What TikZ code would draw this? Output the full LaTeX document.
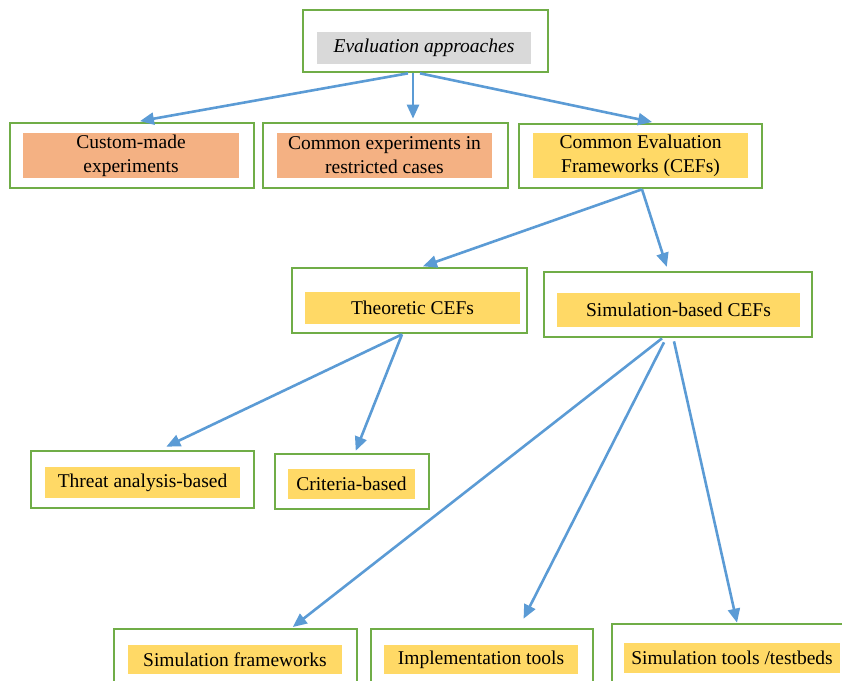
\documentclass[tikz,border=0pt]{standalone}
\usepackage{fontspec}
\setmainfont{Liberation Serif}
\usetikzlibrary{arrows.meta,calc}
\definecolor{FrameClr}{RGB}{112,173,71}
\definecolor{ArrowClr}{RGB}{91,155,213}
\definecolor{OrangeClr}{RGB}{244,177,131}
\definecolor{YellowClr}{RGB}{255,217,102}
\definecolor{GrayClr}{RGB}{217,217,217}
\tikzset{
  outerbox/.style={draw=FrameClr,line width=2.7pt,inner sep=0pt},
  textbox/.style={inner sep=0pt,align=center,font=\fontsize{19.5}{24}\selectfont},
  orangebox/.style={textbox,fill=OrangeClr},
  yellowbox/.style={textbox,fill=YellowClr},
  graybox/.style={textbox,fill=GrayClr,font=\fontsize{19.5}{24}\selectfont\itshape},
  link/.style={draw=ArrowClr,line width=2.6pt,-{Triangle[length=14pt,width=12pt]}}
}

\begin{document}
\begin{tikzpicture}[x=1pt,y=-1pt]
\useasboundingbox (0,0) rectangle (842,680);
\clip (0,0) rectangle (842,680);

% Frames of the boxes.
\node[outerbox,minimum width=245,minimum height=62] (eval) at (425.5,41) {};
\node[outerbox,minimum width=244,minimum height=65] (custom) at (132,155.5) {};
\node[outerbox,minimum width=245,minimum height=65] (commonexp) at (385.5,155.5) {};
\node[outerbox,minimum width=243,minimum height=64] (cefs) at (640.5,156) {};
\node[outerbox,minimum width=235,minimum height=65] (theo) at (409.5,300.5) {};
\node[outerbox,minimum width=268,minimum height=65] (simb) at (678,304.5) {};
\node[outerbox,minimum width=223,minimum height=57] (threat) at (142.5,479.5) {};
\node[outerbox,minimum width=154,minimum height=55] (crit) at (352,481.5) {};
\node[outerbox,minimum width=243,minimum height=66] (simfw) at (235.5,662) {};
\node[outerbox,minimum width=222,minimum height=66] (impl) at (482,662) {};
\node[outerbox,minimum width=258,minimum height=66] (simtools) at (741,657) {};

% Coloured labels inside the frames.
\node[graybox,minimum width=214,minimum height=32] (evalT) at (424,48) {Evaluation approaches};
\node[orangebox,minimum width=216,minimum height=45] (customT) at (131,155.5) {Custom-made\\experiments};
\node[orangebox,minimum width=215,minimum height=45] (commonexpT) at (384.5,155.5) {Common experiments in\\restricted cases};
\node[yellowbox,minimum width=215,minimum height=45] (cefsT) at (640.5,155.5) {Common Evaluation\\Frameworks (CEFs)};
\node[yellowbox,minimum width=215,minimum height=32] (theoT) at (412.5,308) {Theoretic CEFs};
\node[yellowbox,minimum width=243,minimum height=34] (simbT) at (678.5,310) {Simulation-based CEFs};
\node[yellowbox,minimum width=195,minimum height=31] (threatT) at (142.5,482.5) {Threat analysis-based};
\node[yellowbox,minimum width=127,minimum height=30] (critT) at (351.5,484) {Criteria-based};
\node[yellowbox,minimum width=214,minimum height=29] (simfwT) at (235,659.5) {Simulation frameworks};
\node[yellowbox,minimum width=194,minimum height=29] (implT) at (481,659.5) {Implementation tools};
\node[yellowbox,minimum width=216,minimum height=30] (simtoolsT) at (732,658) {Simulation tools /testbeds};

% Draw the connectors.
\draw[link,shorten >=3pt] ([xshift=-17.5]eval.south) -- ([xshift=5]custom.north);
\draw[link,shorten >=3pt] ([xshift=-12.5]eval.south) -- ([xshift=27.5]commonexp.north);
\draw[link,shorten >=3pt] ([xshift=-5.5]eval.south) -- ([xshift=14.5]cefs.north);
\draw[link,shorten >=1pt] ([xshift=1.5]cefs.south) -- ([xshift=12.5]theo.north);
\draw[link,shorten >=4pt] ([xshift=1.5]cefs.south) -- ([xshift=-10]simb.north);
\draw[link,shorten >=7pt] ([xshift=-7.5]theo.south) -- ([xshift=17.5]threat.north);
\draw[link,shorten >=2pt] ([xshift=-7.5]theo.south) -- ([xshift=3]crit.north);
\draw[link,shorten >=1pt] ([xshift=-16]simb.south) -- ([xshift=56.5]simfw.north);
\draw[link,shorten >=10pt] ([xshift=-14,yshift=-4]simb.south) -- ([xshift=37]impl.north);
\draw[link,shorten >=0pt] ([xshift=-4,yshift=-3]simb.south) -- ([xshift=-4]simtools.north);
\end{tikzpicture}
\end{document}
